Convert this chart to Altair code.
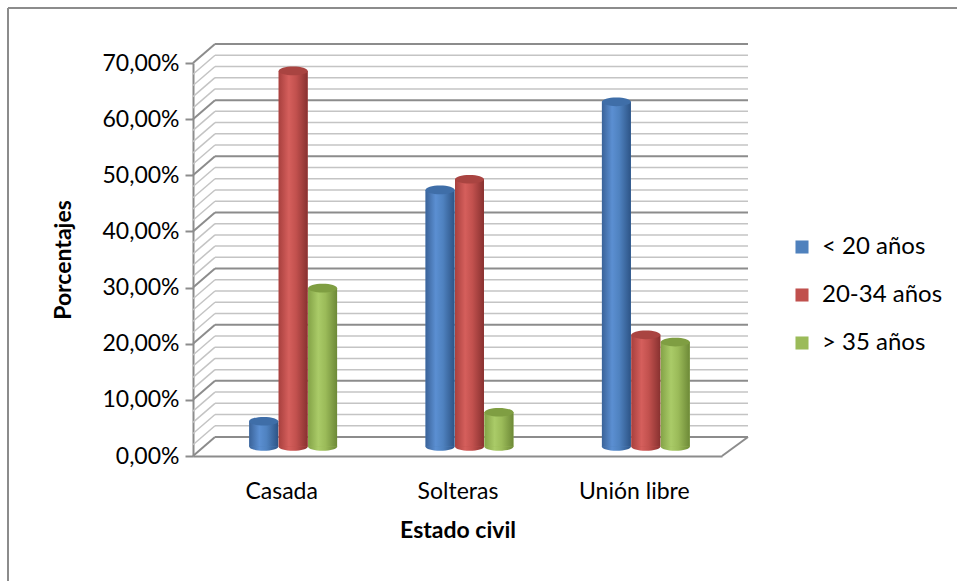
import altair as alt
import pandas as pd

# ---- data ----
categorias = ["Casada", "Solteras", "Unión libre"]
series = ["< 20 años", "20-34 años", "> 35 años"]
menor_20 = [0.045, 0.457, 0.614]
de_20_34 = [0.669, 0.476, 0.199]
mayor_35 = [0.282, 0.061, 0.186]
valores = [menor_20, de_20_34, mayor_35]
y_ticks = [0.0, 0.1, 0.2, 0.3, 0.4, 0.5, 0.6, 0.7]
grid_vals = [round(i * 0.02, 2) for i in range(36)]

colores = ["#4F81BD", "#C0504D", "#9BBB59"]
grad_stops = [
    ["#3a6399", "#5b8fd2", "#4f82c0", "#2d5486"],
    ["#a8403e", "#d55f5c", "#c2514e", "#883130"],
    ["#84a347", "#aacb68", "#9bbb59", "#6d8937"],
]
tapa = ["#3f6ea8", "#a94441", "#7f9e42"]

rows = []
for j, s in enumerate(series):
    for i, c in enumerate(categorias):
        rows.append({"cat": c, "ci": i, "serie": s, "sj": j, "valor": valores[j][i]})
df = pd.DataFrame(rows)

W, H = 529, 393
DX, DY = 12, -9.5      # cylinders at mid depth
BX, BY = 22, -19       # back wall

FONT = "Lato"

x_scale = alt.Scale(domain=[0, 3], nice=False, zero=False)
y_scale = alt.Scale(domain=[0, 0.7], nice=False, zero=False)

label_expr = " : ".join(
    [f"datum.value < {i + 1} ? '{c}'" for i, c in enumerate(categorias[:-1])]
) + f" : '{categorias[-1]}'"

base = alt.Chart(df).transform_calculate(
    centro="datum.ci + 0.5 + (datum.sj - 1) * 0.167",
    x0="datum.ci + 0.5 + (datum.sj - 1) * 0.167 - 0.082",
    x1="datum.ci + 0.5 + (datum.sj - 1) * 0.167 + 0.082",
)

grid_df = pd.DataFrame({"v": grid_vals})
grid_df["major"] = [(round(v * 100) % 10 == 0) for v in grid_vals]
gbase = alt.Chart(grid_df)

# axes carrier layer
axes_layer = alt.Chart(pd.DataFrame({"a": [0]})).mark_point(opacity=0).encode(
    x=alt.X("xx:Q", scale=x_scale,
            axis=alt.Axis(values=[0.5, 1.5, 2.5], labelExpr=label_expr, ticks=False,
                          grid=False, domainColor="#8c8c8c", domainWidth=2,
                          labelFont=FONT, labelFontSize=23, labelColor="#000000",
                          labelPadding=24, title="Estado civil", titleFont=FONT,
                          titleFontSize=23, titleFontWeight="bold", titleColor="#000000",
                          titlePadding=16)),
    y=alt.Y("yy:Q", scale=y_scale,
            axis=alt.Axis(values=y_ticks,
                          labelExpr="replace(format(datum.value*100, '.2f'), '.', ',') + '%'",
                          tickSize=8, tickColor="#8c8c8c", tickWidth=2, domainColor="#8c8c8c",
                          domainWidth=2, grid=False, labelFont=FONT, labelFontSize=23,
                          labelColor="#000000", labelPadding=6, title="Porcentajes",
                          titleFont=FONT, titleFontSize=23, titleFontWeight="bold",
                          titleColor="#000000", titlePadding=26)),
).transform_calculate(xx="0", yy="0")

minor = gbase.transform_filter("!datum.major").mark_rule(
    color="#c4c4c4", strokeWidth=1.5, yOffset=BY
).encode(x=alt.value(BX), x2=alt.value(W + 26), y=alt.Y("v:Q", scale=y_scale))
major = gbase.transform_filter("datum.major").mark_rule(
    color="#8c8c8c", strokeWidth=2, yOffset=BY
).encode(x=alt.value(BX), x2=alt.value(W + 26), y=alt.Y("v:Q", scale=y_scale))
diag_minor = gbase.transform_filter("!datum.major").mark_rule(
    color="#c4c4c4", strokeWidth=1.5, y2Offset=BY
).encode(x=alt.value(0), x2=alt.value(BX), y=alt.Y("v:Q", scale=y_scale), y2="v:Q")
diag_major = gbase.transform_filter("datum.major").mark_rule(
    color="#8c8c8c", strokeWidth=2, y2Offset=BY
).encode(x=alt.value(0), x2=alt.value(BX), y=alt.Y("v:Q", scale=y_scale), y2="v:Q")
floor_right = alt.Chart(pd.DataFrame({"v": [0.0]})).mark_rule(
    color="#8c8c8c", strokeWidth=2, y2Offset=BY
).encode(x=alt.value(W), x2=alt.value(W + 26), y=alt.Y("v:Q", scale=y_scale), y2="v:Q")

border_top = alt.Chart(pd.DataFrame({"a": [0]})).mark_rule(
    color="#8c8c8c", strokeWidth=2
).encode(x=alt.value(-185), x2=alt.value(800), y=alt.value(-55))
border_left = alt.Chart(pd.DataFrame({"a": [0]})).mark_rule(
    color="#8c8c8c", strokeWidth=2
).encode(x=alt.value(-185), y=alt.value(-55), y2=alt.value(560))

ellipse = "M-1,0A1,0.3,0,1,1,1,0A1,0.3,0,1,1,-1,0Z"

layers = [axes_layer, minor, major, diag_minor, diag_major, floor_right, border_top, border_left]

bar_offsets = dict(xOffset=DX, x2Offset=DX, yOffset=DY, y2Offset=DY)

# legend layer (plain bars beneath gradient ones)
legend_bars = base.mark_bar(**bar_offsets).encode(
    x=alt.X("x0:Q", scale=x_scale), x2="x1:Q",
    y=alt.Y("valor:Q", scale=y_scale), y2=alt.datum(0),
    color=alt.Color("serie:N", scale=alt.Scale(domain=series, range=colores),
                    sort=series,
                    legend=alt.Legend(title=None, orient="none", legendX=597, legendY=172,
                                      symbolType="square", symbolSize=170,
                                      symbolStrokeWidth=0, labelFont=FONT,
                                      labelFontSize=24, labelColor="#000000",
                                      labelOffset=8, rowPadding=24, symbolOpacity=1)),
)

def gradient(j):
    return alt.Gradient(gradient="linear", x1=0, x2=1, y1=0, y2=0,
                        stops=[alt.GradientStop(offset=o, color=c)
                               for o, c in zip([0, 0.35, 0.6, 1], grad_stops[j])])

for j, s in enumerate(series):
    sub = base.transform_filter(alt.datum.serie == s)
    bottom = sub.mark_point(shape=ellipse, filled=True, size=29 * 29, fill=gradient(j),
                            strokeWidth=0, opacity=1, xOffset=DX, yOffset=DY).encode(
        x=alt.X("centro:Q", scale=x_scale), y=alt.datum(0, scale=y_scale))
    layers.append(bottom)

layers.append(legend_bars)

for j, s in enumerate(series):
    sub = base.transform_filter(alt.datum.serie == s)
    body = sub.mark_bar(fill=gradient(j), **bar_offsets).encode(
        x=alt.X("x0:Q", scale=x_scale), x2="x1:Q",
        y=alt.Y("valor:Q", scale=y_scale), y2=alt.datum(0))
    top = sub.mark_point(shape=ellipse, filled=True, size=29 * 29, fill=tapa[j],
                         strokeWidth=0, opacity=1, xOffset=DX, yOffset=DY).encode(
        x=alt.X("centro:Q", scale=x_scale), y=alt.Y("valor:Q", scale=y_scale))
    layers += [body, top]

chart = alt.layer(*layers).properties(
    width=W, height=H,
    autosize=alt.AutoSizeParams(type="none"),
    padding={"left": 193, "top": 63, "right": 957 - 193 - W, "bottom": 581 - 63 - H},
    background="#ffffff",
).configure_view(stroke=None)

chart.save("out.html", embed_options={"renderer": "svg", "actions": False})
